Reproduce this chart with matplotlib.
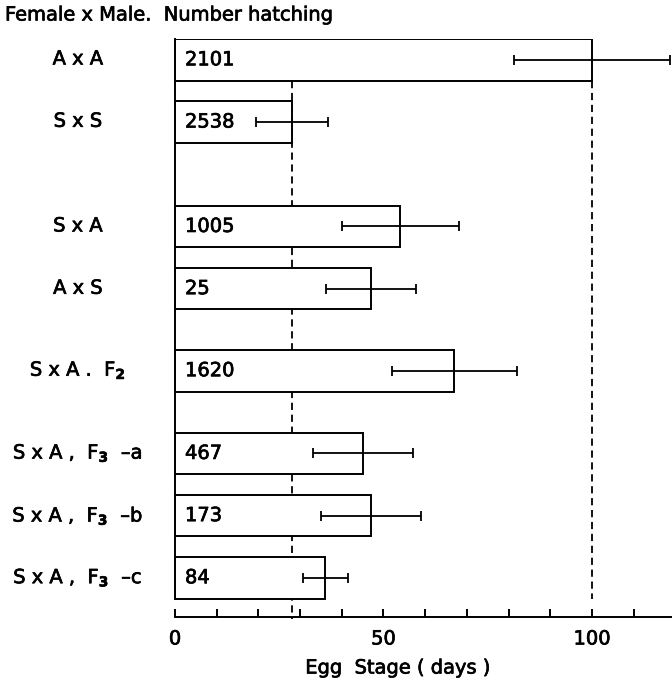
import numpy as np
import matplotlib.pyplot as plt
import matplotlib.patheffects as pe
from matplotlib.ticker import MultipleLocator, FixedLocator

plt.rcParams["font.family"] = "DejaVu Sans"
plt.rcParams["mathtext.fontset"] = "dejavusans"

# crosses, mean egg stage (days), +/- spread and number hatching
crosses = ["A x A", "S x S", "S x A", "A x S", "S x A .  F$_\\mathbf{2}$",
           "S x A ,  F$_\\mathbf{3}$  \u2013a", "S x A ,  F$_\\mathbf{3}$  \u2013b",
           "S x A ,  F$_\\mathbf{3}$  \u2013c"]
slots = [0, 1, 2.68, 3.68, 5.0, 6.33, 7.33, 8.33]
mean_days = [100, 28, 54, 47, 67, 45, 47, 36]
spread = [18.7, 8.6, 14, 10.7, 15, 12, 12, 5.4]
n_hatch = ["2101", "2538", "1005", "25", "1620", "467", "173", "84"]
ref_lines = [28, 100]

# slightly heavier glyphs, like the typeset labels
heavy = [pe.withStroke(linewidth=0.5, foreground="black")]
fs = 14

h = 0.67
fig = plt.figure(figsize=(6.72, 6.84), dpi=100)
ax = fig.add_axes([0.2604, 0.098, 0.7396, 0.845])

ax.barh(slots, mean_days, height=h, color="white", edgecolor="black",
        linewidth=1.4, zorder=2)
ax.errorbar(mean_days, slots, xerr=spread, fmt="none", ecolor="black",
            elinewidth=1.3, capsize=3.5, capthick=1.3, zorder=3)

for y, n in zip(slots, n_hatch):
    ax.text(2.4, y, n, va="center", ha="left", fontsize=fs, zorder=4,
            path_effects=heavy)

# dashed reference lines for the two parental means
ax.plot([ref_lines[0]] * 2, [slots[0] + h / 2, 9.0], ls=(0, (4, 2.6)),
        color="black", lw=1.3, zorder=1, clip_on=False)
ax.plot([ref_lines[1]] * 2, [slots[0] + h / 2, slots[-1] + h / 2], ls=(0, (4, 2.6)),
        color="black", lw=1.3, zorder=1)

ax.set_xlim(0, 119.2)
ax.set_ylim(8.96, slots[0] - h / 2)

ax.spines["top"].set_visible(False)
ax.spines["right"].set_visible(False)
ax.spines["left"].set_bounds(slots[0] - h / 2, slots[-1] + h / 2)
ax.spines["left"].set_linewidth(1.4)
ax.spines["bottom"].set_linewidth(1.4)

ax.xaxis.set_major_locator(FixedLocator([0, 50, 100]))
ax.xaxis.set_minor_locator(MultipleLocator(10))
ax.tick_params(axis="x", which="both", direction="in", length=6, width=1.4,
               labelsize=fs, pad=9)
for t in ax.get_xticklabels():
    t.set_path_effects(heavy)
ax.set_yticks([])

for y, lab in zip(slots, crosses):
    fig.text(78 / 672, 1 - (59 + (y - slots[0]) * 62.3) / 684, lab,
             ha="center", va="center", fontsize=fs, path_effects=heavy)

fig.text(5 / 672, 1 - 15 / 684, "Female x Male.  Number hatching",
         ha="left", va="center", fontsize=fs, path_effects=heavy)
fig.text(398 / 672, 1 - 668 / 684, "Egg  Stage ( days )",
         ha="center", va="center", fontsize=fs, path_effects=heavy)

plt.savefig("out.png", dpi=100)
